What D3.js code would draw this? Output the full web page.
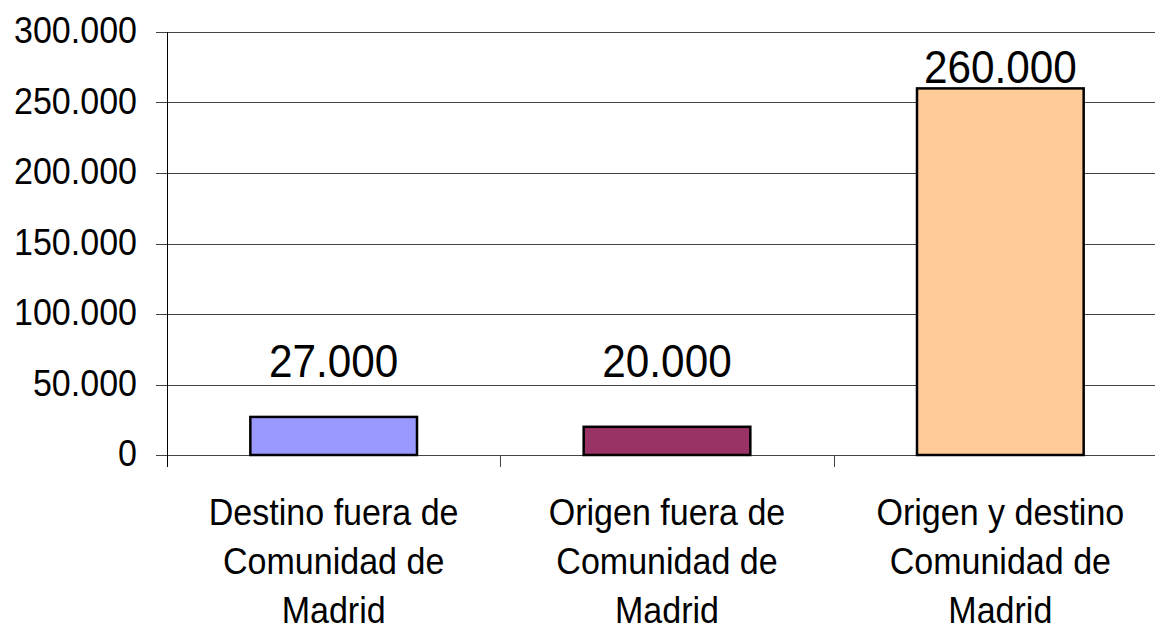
<!DOCTYPE html>
<html>
<head>
<meta charset="utf-8">
<script src="https://cdn.jsdelivr.net/npm/d3@7"></script>
<style>
  body { margin: 0; background: #fff; }
  svg { display: block; }
  text { font-family: "Liberation Sans", Arial, sans-serif; fill: #000; }
</style>
</head>
<body>
<div id="chart"></div>
<script>
const categories = [
    ["Destino fuera de", "Comunidad de", "Madrid"],
    ["Origen fuera de", "Comunidad de", "Madrid"],
    ["Origen y destino", "Comunidad de", "Madrid"]
];
const values = [27000, 20000, 260000];
const colors = ["#9999ff", "#993366", "#ffcc99"];
const yTicks = [0, 50000, 100000, 150000, 200000, 250000, 300000];

const W = 1155, H = 632;
const margin = {top: 32, left: 167, bottom: 632 - 455};
const plotW = 1000;

const svg = d3.select("#chart")
    .append("svg")
    .attr("width", W)
    .attr("height", H);

const x = d3.scaleBand()
    .domain(d3.range(values.length))
    .range([margin.left, margin.left + plotW])
    .paddingInner(0.5)
    .paddingOuter(0.25);

const y = d3.scaleLinear()
    .domain([0, 300000])
    .range([455, margin.top]);

// number format with dot as thousands separator
const fmt = d3.formatLocale({decimal: ",", thousands: ".", grouping: [3], currency: ["", "€"]}).format(",d");

// gridlines + left ticks
svg.append("g")
    .selectAll("line")
    .data(yTicks)
    .join("line")
    .attr("x1", margin.left - 11)
    .attr("x2", margin.left + plotW)
    .attr("y1", d => Math.round(y(d)) + 0.5)
    .attr("y2", d => Math.round(y(d)) + 0.5)
    .style("stroke", "#444")
    .style("stroke-width", 1.2);

// y tick labels
svg.append("g")
    .selectAll("text")
    .data(yTicks)
    .join("text")
    .attr("transform", d => `translate(137, ${y(d) + 11}) scale(0.92, 1)`)
    .attr("text-anchor", "end")
    .style("font-size", "37px")
    .text(d => fmt(d));

// y axis line
svg.append("line")
    .attr("x1", margin.left + 0.5).attr("x2", margin.left + 0.5)
    .attr("y1", margin.top).attr("y2", 467)
    .style("stroke", "#000");

// category ticks
svg.append("g")
    .selectAll("line")
    .data(d3.range(1, values.length + 1))
    .join("line")
    .attr("x1", i => Math.round(margin.left + i * x.step()) + 0.5)
    .attr("x2", i => Math.round(margin.left + i * x.step()) + 0.5)
    .attr("y1", 455)
    .attr("y2", 467)
    .style("stroke", "#444");

// bars
svg.append("g")
    .selectAll("rect")
    .data(values)
    .join("rect")
    .attr("x", (d, i) => x(i))
    .attr("y", d => y(d))
    .attr("width", x.bandwidth())
    .attr("height", d => y(0) - y(d))
    .style("fill", (d, i) => colors[i])
    .style("stroke", "#000")
    .style("stroke-width", 2.5);

// value labels (small ones share one baseline, tall one sits just above its bar)
const labelY = d => Math.max(83, Math.min(y(d) - 40, 377));
svg.append("g")
    .selectAll("text")
    .data(values)
    .join("text")
    .attr("transform", (d, i) => `translate(${x(i) + x.bandwidth() / 2}, ${labelY(d)}) scale(0.9, 1)`)
    .attr("text-anchor", "middle")
    .style("font-size", "47px")
    .text(d => fmt(d));

// category labels
const cat = svg.append("g")
    .selectAll("g")
    .data(categories)
    .join("g");

cat.selectAll("text")
    .data((d, i) => d.map(t => ({t, i})))
    .join("text")
    .attr("transform", (d, j) => `translate(${x(d.i) + x.bandwidth() / 2}, ${525 + j * 49}) scale(0.92, 1)`)
    .attr("text-anchor", "middle")
    .style("font-size", "37px")
    .text(d => d.t);
</script>
</body>
</html>
